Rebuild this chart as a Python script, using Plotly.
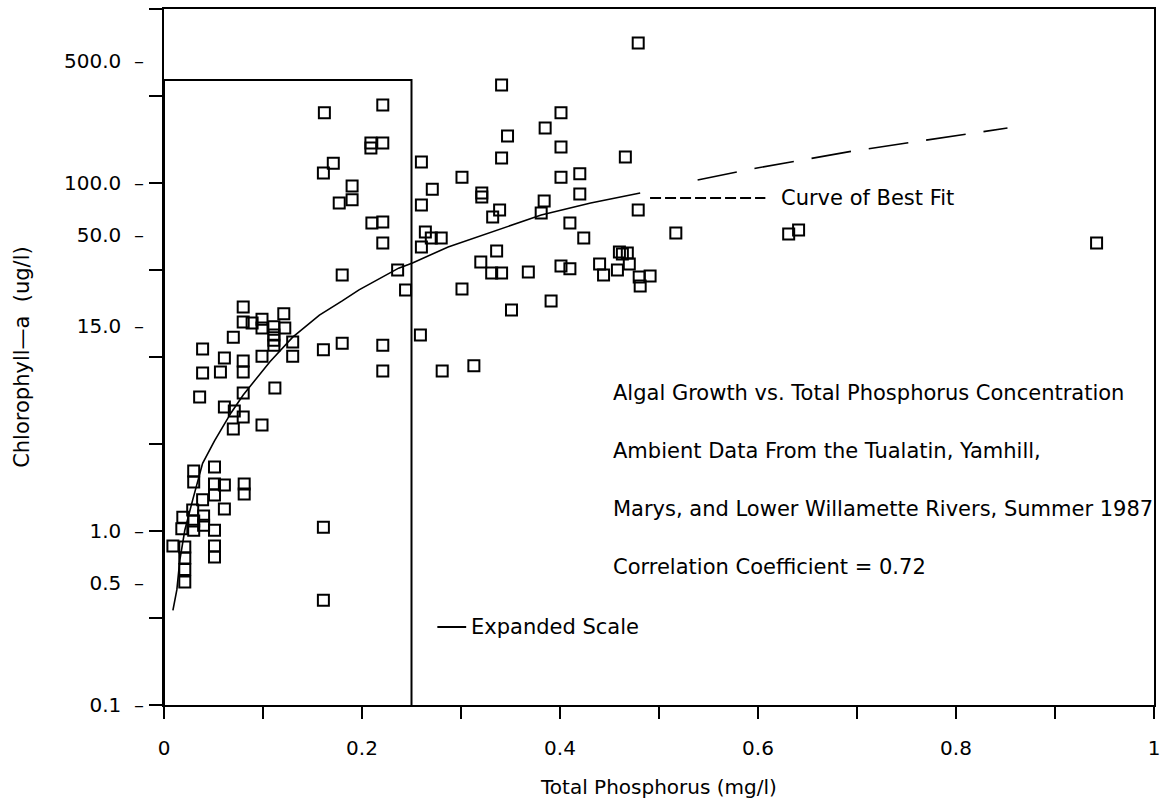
import plotly.graph_objects as go

# ---------------- data ----------------
tp = [
    # low cluster
    0.009, 0.018, 0.019, 0.021, 0.021, 0.021, 0.021, 0.029, 0.030, 0.030, 0.030, 0.030,
    0.039, 0.040, 0.040, 0.051, 0.051, 0.051, 0.051, 0.051, 0.051, 0.061, 0.061, 0.081, 0.081,
    0.161, 0.161,
    # mid-low cluster
    0.080, 0.080, 0.089, 0.070, 0.099, 0.099, 0.111, 0.111, 0.111, 0.111, 0.121, 0.122,
    0.130, 0.130, 0.039, 0.061, 0.057, 0.039, 0.080, 0.080, 0.099, 0.036, 0.080, 0.112,
    0.061, 0.071, 0.080, 0.070, 0.099, 0.161, 0.180,
    # inside expanded box, upper
    0.162, 0.221, 0.209, 0.209, 0.221, 0.171, 0.161, 0.190, 0.190, 0.177, 0.210, 0.221,
    0.221, 0.180, 0.236, 0.244,
    # right of box
    0.260, 0.271, 0.260, 0.301, 0.321, 0.321, 0.264, 0.270, 0.280, 0.260, 0.301,
    0.341, 0.401, 0.385, 0.347, 0.401, 0.341, 0.466, 0.401, 0.420, 0.420, 0.384, 0.381,
    0.339, 0.332, 0.479, 0.410, 0.424, 0.517, 0.336, 0.320, 0.331, 0.341, 0.368, 0.401,
    0.410, 0.440, 0.444, 0.460, 0.463, 0.468, 0.470, 0.458, 0.480, 0.491, 0.481, 0.391,
    0.351, 0.479, 0.631, 0.641, 0.942, 0.259, 0.281, 0.313, 0.221, 0.221,
]
chl = [
    0.82, 1.03, 1.20, 0.81, 0.70, 0.60, 0.51, 1.32, 2.21, 1.91, 1.14, 1.01,
    1.51, 1.22, 1.08, 2.33, 1.86, 1.61, 1.01, 0.82, 0.71, 1.84, 1.34, 1.86, 1.63,
    1.05, 0.40,
    19.4, 15.9, 15.7, 13.0, 16.5, 14.7, 14.9, 13.4, 12.5, 11.7, 17.7, 14.7,
    12.2, 10.1, 11.1, 9.87, 8.20, 8.09, 9.48, 8.20, 10.1, 5.89, 6.21, 6.64,
    5.16, 4.89, 4.52, 3.86, 4.07, 11.0, 12.0,
    253, 281, 170, 159, 170, 130, 114, 96, 80, 76.7, 58.9, 59.7,
    45.2, 29.6, 31.6, 24.3,
    132, 92, 74.8, 108, 87.7, 83, 52.3, 48.3, 48.3, 42.9, 24.6,
    366, 253, 207, 186, 161, 139, 141, 108, 113, 86.5, 78.8, 67.3,
    70, 63.8, 70, 58.9, 48.3, 51.6, 40.7, 35.2, 30.4, 30.4, 30.8, 33.3,
    32.1, 34.2, 29.6, 40.1, 39.1, 39.6, 34.2, 31.6, 28.8, 29.2, 25.6, 21.0,
    18.6, 638, 50.9, 53.7, 45.2, 13.4, 8.3, 8.9, 11.7, 8.3,
]

# curve of best fit (solid part) and its dashed extension
fit_x = [0.009, 0.013, 0.016, 0.021, 0.029, 0.039, 0.051, 0.068, 0.080, 0.107, 0.130,
         0.157, 0.180, 0.197, 0.237, 0.251, 0.287, 0.338, 0.381, 0.431, 0.481]
fit_y = [0.35, 0.46, 0.68, 1.01, 1.51, 2.45, 3.3, 4.8, 6.05, 9.4, 13.0,
         17.4, 21.0, 24.3, 32.4, 34.7, 42.9, 53.7, 65.4, 76.7, 87.7]
ext_x = [0.539, 0.599, 0.697, 0.852]
ext_y = [104, 122, 153, 207]

# "expanded scale" box
box_x = [0, 0, 0.25, 0.25]
box_y = [0.1, 391, 391, 0.1]

y_tick_vals = [0.1, 0.5, 1.0, 15.0, 50.0, 100.0, 500.0]
y_tick_text = ["0.1", "0.5", "1.0", "15.0", "50.0", "100.0", "500.0"]
y_minor_vals = [0.1, 0.3162, 1, 3.162, 10, 31.62, 100, 316.2, 1000]
x_tick_vals = [0, 0.2, 0.4, 0.6, 0.8, 1.0]
x_tick_text = ["0", "0.2", "0.4", "0.6", "0.8", "1"]

notes = [
    "Algal Growth vs. Total Phosphorus Concentration",
    "Ambient Data From the Tualatin, Yamhill,",
    "Marys, and Lower Willamette Rivers, Summer 1987",
    "Correlation Coefficient = 0.72",
]

# ---------------- layout helpers (pixel -> paper) ----------------
W, H = 1165, 805
PX0, PX1, PY0, PY1 = 164, 1160, 9, 705


def xp(px):
    return (px - PX0) / (PX1 - PX0)


def yp(py):
    return (PY1 - py) / (PY1 - PY0)


FONT = "DejaVu Sans"
fig = go.Figure()

fig.add_trace(go.Scatter(x=box_x, y=box_y, mode="lines",
                         line=dict(color="black", width=2), hoverinfo="skip"))
fig.add_trace(go.Scatter(x=fit_x, y=fit_y, mode="lines",
                         line=dict(color="black", width=1.6)))
fig.add_trace(go.Scatter(x=ext_x, y=ext_y, mode="lines",
                         line=dict(color="black", width=1.6, dash="40px,18px")))
fig.add_trace(go.Scatter(x=tp, y=chl, mode="markers",
                         marker=dict(symbol="square-open", size=11, color="black",
                                     line=dict(width=2, color="black"))))

annotations = []
rows_py = [393, 451, 509, 567]
for txt, py in zip(notes, rows_py):
    annotations.append(dict(text=txt, x=xp(614), y=yp(py), xref="paper", yref="paper",
                            xanchor="left", yanchor="middle", showarrow=False,
                            font=dict(family=FONT, size=21, color="black")))
annotations.append(dict(text="Curve of Best Fit", x=xp(783), y=yp(198), xref="paper",
                        yref="paper", xanchor="left", yanchor="middle", showarrow=False,
                        font=dict(family=FONT, size=21, color="black")))
annotations.append(dict(text="Expanded Scale", x=xp(471), y=yp(627), xref="paper",
                        yref="paper", xanchor="left", yanchor="middle", showarrow=False,
                        font=dict(family=FONT, size=21, color="black")))
annotations.append(dict(text="Total Phosphorus (mg/l)", x=xp(661), y=yp(787), xref="paper",
                        yref="paper", xanchor="center", yanchor="middle", showarrow=False,
                        font=dict(family=FONT, size=20, color="black")))
annotations.append(dict(text="Chlorophyll\u2014a  (ug/l)", x=xp(21), y=yp(357), xref="paper",
                        yref="paper", xanchor="center", yanchor="middle", showarrow=False,
                        textangle=-90, font=dict(family=FONT, size=21, color="black")))

shapes = [
    dict(type="line", xref="paper", yref="paper", x0=xp(439), x1=xp(468),
         y0=yp(627), y1=yp(627), line=dict(color="black", width=2)),
    dict(type="line", xref="paper", yref="paper", x0=xp(653), x1=xp(769),
         y0=yp(198), y1=yp(198), line=dict(color="black", width=2, dash="11px,4px")),
]

fig.update_layout(
    width=W, height=H,
    margin=dict(l=PX0, r=W - PX1, t=PY0, b=H - PY1, pad=0),
    paper_bgcolor="white", plot_bgcolor="white",
    showlegend=False,
    font=dict(family=FONT, size=20, color="black"),
    annotations=annotations,
    shapes=shapes,
    xaxis=dict(range=[0, 1], showgrid=False, zeroline=False,
               showline=True, linecolor="black", linewidth=2, mirror=True,
               ticks="outside", ticklen=12, tickwidth=2, tickcolor="black",
               tickmode="array", tickvals=x_tick_vals, ticktext=x_tick_text,
               ticklabelstandoff=12,
               minor=dict(dtick=0.1, tick0=0, ticks="outside", ticklen=12,
                          tickwidth=2, tickcolor="black", showgrid=False),
               tickfont=dict(family=FONT, size=20, color="black")),
    yaxis=dict(type="log", range=[-1, 3], showgrid=False, zeroline=False,
               showline=True, linecolor="black", linewidth=2, mirror=True,
               ticks="", tickmode="array", tickvals=y_tick_vals,
               ticktext=[t + "  \u2013" for t in y_tick_text],
               ticklabelstandoff=14,
               minor=dict(tickmode="array", tickvals=y_minor_vals, ticks="outside",
                          ticklen=13, tickwidth=2, tickcolor="black", showgrid=False),
               tickfont=dict(family=FONT, size=20, color="black")),
)

fig.write_html("out.html")
